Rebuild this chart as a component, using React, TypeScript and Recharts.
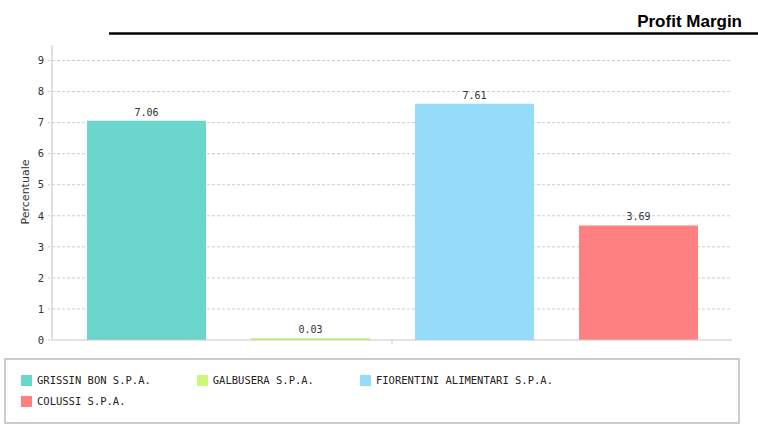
import React from "react";
import { BarChart, Bar, XAxis, YAxis, CartesianGrid, LabelList } from "recharts";

// Companies shown as separate series in a single category
const companies = ["GRISSIN BON S.P.A.", "GALBUSERA S.P.A.", "FIORENTINI ALIMENTARI S.P.A.", "COLUSSI S.P.A."];
const seriesKeys = ["grissin", "galbusera", "fiorentini", "colussi"];
const margins = [7.06, 0.03, 7.61, 3.69];
const yTicks = [0, 1, 2, 3, 4, 5, 6, 7, 8, 9];

const COLORS = ["#6ad6cc", "#cdf77b", "#95dcfa", "#ff8080"];

const MONO = "'DejaVu Sans Mono', monospace";

const row: Record<string, any> = { name: "Profit Margin" };
seriesKeys.forEach((k, i) => {
  row[k] = margins[i];
});
const data = [row];

const App: React.FC = () => {
  return (
    <div style={{ position: "absolute", left: 0, top: 0, width: 758, height: 427, background: "#fff" }}>
      <svg width={758} height={60} style={{ position: "absolute", left: 0, top: 0 }}>
        <text
          x={742}
          y={27}
          textAnchor="end"
          fontFamily="'Liberation Sans', Arial, sans-serif"
          fontWeight="bold"
          fontSize={17}
          fill="#000"
        >
          Profit Margin
        </text>
        <line x1={109} y1={33.5} x2={758} y2={33.5} stroke="#000" strokeWidth={2.5} />
      </svg>

      <BarChart
        width={758}
        height={350}
        data={data}
        margin={{ top: 45, right: 26, left: 12, bottom: 0 }}
        barSize={119}
        barGap={45}
        accessibilityLayer={false}
        style={{ position: "absolute", left: 0, top: 0, outline: "none" }}
      >
        <CartesianGrid
          vertical={false}
          horizontalValues={yTicks.slice(1)}
          stroke="#cccccc"
          strokeDasharray="3 2"
        />
        <XAxis
          dataKey="name"
          height={10}
          axisLine={{ stroke: "#c8c8c8", strokeWidth: 1 }}
          tickLine={{ stroke: "#cccccc" }}
          tickSize={4}
          tick={() => <g />}
        />
        <YAxis
          width={40}
          domain={[0, 9.5]}
          ticks={yTicks}
          interval={0}
          axisLine={{ stroke: "#e0e0e0", strokeWidth: 2 }}
          tickLine={{ stroke: "#cccccc", strokeDasharray: "2 1" }}
          tickSize={4}
          tickMargin={4}
          tick={{ fontFamily: MONO, fontSize: 10.5, fill: "#333" }}
        />
        {seriesKeys.map((k, i) => (
          <Bar key={k} dataKey={k} name={companies[i]} fill={COLORS[i]} minPointSize={2} isAnimationActive={false}>
            <LabelList
              dataKey={k}
              position="top"
              offset={5}
              style={{ fontFamily: MONO, fontSize: 10, fill: "#333" }}
              formatter={(v: any) => Number(v).toFixed(2)}
            />
          </Bar>
        ))}
      </BarChart>

      <svg width={40} height={300} style={{ position: "absolute", left: 0, top: 45 }}>
        <text
          x={29}
          y={147}
          textAnchor="middle"
          transform="rotate(-90 29 147)"
          fontFamily="'DejaVu Sans', sans-serif"
          fontSize={11}
          fill="#333"
        >
          Percentuale
        </text>
      </svg>

      <div
        style={{
          position: "absolute",
          left: 4,
          top: 358,
          width: 732,
          height: 62,
          border: "2px solid #cccccc",
          boxSizing: "content-box",
        }}
      >
        <div
          style={{
            position: "absolute",
            left: 15,
            top: 15,
            width: 600,
            display: "flex",
            flexWrap: "wrap",
            rowGap: 10,
          }}
        >
          {companies.map((c, i) => (
            <div
              key={c}
              style={{ display: "flex", alignItems: "center", marginRight: 46, height: 11 }}
            >
              <span style={{ width: 11, height: 11, background: COLORS[i], marginRight: 5, display: "inline-block" }} />
              <span style={{ fontFamily: MONO, fontSize: 10.5, color: "#222", lineHeight: "11px", whiteSpace: "nowrap" }}>
                {c}
              </span>
            </div>
          ))}
        </div>
      </div>
    </div>
  );
};

export default App;
